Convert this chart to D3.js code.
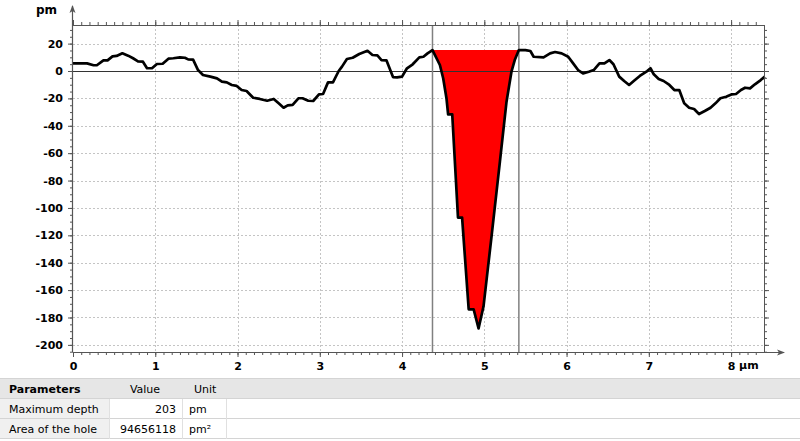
<!DOCTYPE html>
<html>
<head>
<meta charset="utf-8">
<script src="https://cdn.jsdelivr.net/npm/d3@7"></script>
<style>
  body { margin: 0; background: #fff; }
  svg { display: block; }
</style>
</head>
<body>
<svg id="chart" width="800" height="441"></svg>
<script>
// profile, µm along x and pm height
const profileX = [0, 0.17, 0.25, 0.29, 0.37, 0.42, 0.48, 0.53, 0.60, 0.67, 0.73, 0.79, 0.85, 0.90, 0.96, 1.02, 1.09, 1.16, 1.22, 1.30, 1.36, 1.40, 1.46,
  1.52, 1.58, 1.67, 1.75, 1.81, 1.87, 1.93, 1.99, 2.05, 2.11, 2.19, 2.27, 2.36, 2.44, 2.50, 2.56, 2.61, 2.67, 2.74, 2.79, 2.86, 2.92, 2.99, 3.04,
  3.10, 3.16, 3.23, 3.27, 3.33, 3.40, 3.48, 3.58, 3.64, 3.70, 3.75, 3.81, 3.89, 3.94, 4.00, 4.06, 4.13, 4.21, 4.26, 4.31, 4.37,
  4.46, 4.50, 4.54, 4.56, 4.61, 4.68, 4.73, 4.81, 4.87, 4.93, 4.99, 5.09, 5.19, 5.27, 5.33, 5.37, 5.42, 5.50,
  5.56, 5.60, 5.72, 5.80, 5.86, 5.94, 6.02, 6.08, 6.14, 6.20, 6.27, 6.33, 6.40, 6.46, 6.52, 6.57, 6.64, 6.70, 6.76, 6.82, 6.89, 6.98, 7.02,
  7.06, 7.12, 7.18, 7.25, 7.31, 7.37, 7.43, 7.49, 7.55, 7.61, 7.68, 7.75, 7.81, 7.87, 7.94, 8.01, 8.06, 8.12, 8.17, 8.23, 8.29, 8.36, 8.41];
const profileY = [5.6, 5.6, 4.2, 4.2, 7.8, 7.8, 10.7, 11, 12.9, 11.2, 9.3, 7.1, 6.8, 2, 2, 5.1, 5.3, 9, 9.3, 10, 9.7, 8.5, 8.3,
  0.7, -2.9, -4.1, -5.4, -7.8, -8.3, -10.2, -10.9, -13.9, -14.6, -19.5, -20.4, -21.7, -20.4, -23.6, -26.8, -25.1, -24.8, -19.9, -19.9, -21.7, -21.9, -17, -16.8,
  -8.3, -8.3, 0, 3.2, 8.8, 9.7, 12.4, 14.8, 11.7, 11.4, 8, 7.8, -4.4, -4.6, -4.1, 2, 4.9, 10, 10.4, 12.9, 15.3,
  4.4, -5.3, -19.9, -31.6, -31.6, -107, -107, -174, -174, -188, -172, -119.7, -66, -22.4, -0.5, 8, 15.3, 15.3,
  14.6, 10.4, 10, 12.9, 13.9, 12.9, 10.4, 5.6, 0.7, -1.7, -0.5, 0.7, 5.6, 5.6, 8, 4.9, -4.1, -7.3, -10.2, -7.1, -3.6, 0, 2,
  -2.4, -5.8, -7.3, -10.2, -13.9, -13.9, -23.6, -26.8, -27.7, -31.4, -29.2, -26.8, -23.6, -19.9, -18.8, -17, -16.8, -13.9, -12.2, -12.7, -9.7, -6.6, -4.1];

const holeStart = 4.37, holeEnd = 5.42, holeLevel = 15.3;

const xTicks = [0, 1, 2, 3, 4, 5, 6, 7, 8];
const yTicks = [20, 0, -20, -40, -60, -80, -100, -120, -140, -160, -180, -200];

const tableHeader = ["Parameters", "Value", "Unit"];
const paramNames = ["Maximum depth", "Area of the hole"];
const paramValues = ["203", "94656118"];
const paramUnits = ["pm", "pm²"];

const svg = d3.select("#chart");
const L = 73, R = 764, T = 25, B = 352;
const x = d3.scaleLinear().domain([0, 8.4]).range([L, R]);
const y = d3.scaleLinear().domain([-205.2, 33.6]).range([B, T]);
const axisColor = "#555";
const font = "'DejaVu Sans', Verdana, sans-serif";

const pts = profileX.map((d, i) => [d, profileY[i]]);

// grid
const grid = svg.append("g").attr("stroke", "#c4c4c4").attr("stroke-dasharray", "2,2").attr("stroke-width", 1);
xTicks.filter(d => d > 0).forEach(d => {
  grid.append("line").attr("x1", Math.round(x(d)) + 0.5).attr("x2", Math.round(x(d)) + 0.5).attr("y1", T).attr("y2", B);
});
yTicks.filter(d => d !== 0).forEach(d => {
  grid.append("line").attr("x1", L).attr("x2", R).attr("y1", Math.round(y(d)) + 0.5).attr("y2", Math.round(y(d)) + 0.5);
});

// hole fill
const holePts = pts.filter(p => p[0] >= holeStart && p[0] <= holeEnd);
svg.append("path")
  .datum(holePts)
  .attr("fill", "#ff0000")
  .attr("d", d3.area().x(p => x(p[0])).y0(y(holeLevel)).y1(p => y(p[1])));

// zero line
svg.append("line").attr("x1", L).attr("x2", R).attr("y1", Math.round(y(0)) + 0.5).attr("y2", Math.round(y(0)) + 0.5)
  .attr("stroke", "#333").attr("stroke-width", 1);

// hole bounds
[holeStart, holeEnd].forEach(d => {
  svg.append("line").attr("x1", x(d)).attr("x2", x(d)).attr("y1", T).attr("y2", B)
    .attr("stroke", "#808080").attr("stroke-width", 1.5);
});

// profile
svg.append("path")
  .datum(pts)
  .attr("fill", "none")
  .attr("stroke", "#000")
  .attr("stroke-width", 2.7)
  .attr("stroke-linejoin", "round")
  .attr("d", d3.line().x(p => x(p[0])).y(p => y(p[1])));

// axes
const minorX = d3.range(0, 84).map(i => i / 10);
const minorY = d3.range(-205, 34, 5);

function styleAxis(g) {
  g.select(".domain").remove();
  g.selectAll("line").attr("stroke", axisColor);
}

svg.append("g").attr("transform", `translate(0,${B})`)
  .call(d3.axisBottom(x).tickValues(minorX).tickSize(3).tickFormat("")).call(styleAxis);
svg.append("g").attr("transform", `translate(0,${B})`)
  .call(d3.axisBottom(x).tickValues(xTicks).tickSize(5).tickFormat(d => d))
  .call(styleAxis)
  .call(g => g.selectAll("text").attr("font-family", font).attr("font-weight", "bold").attr("font-size", 11).attr("fill", "#000").attr("dy", "0.95em"));
svg.append("g").attr("transform", `translate(0,${T})`)
  .call(d3.axisTop(x).tickValues(minorX).tickSize(3).tickFormat("")).call(styleAxis);
svg.append("g").attr("transform", `translate(0,${T})`)
  .call(d3.axisTop(x).tickValues(xTicks).tickSize(5).tickFormat("")).call(styleAxis);

svg.append("g").attr("transform", `translate(${L},0)`)
  .call(d3.axisLeft(y).tickValues(minorY).tickSize(3).tickFormat("")).call(styleAxis);
svg.append("g").attr("transform", `translate(${L},0)`)
  .call(d3.axisLeft(y).tickValues(yTicks).tickSize(5).tickPadding(5).tickFormat(d => d))
  .call(styleAxis)
  .call(g => g.selectAll("text").attr("font-family", font).attr("font-weight", "bold").attr("font-size", 11).attr("fill", "#000"));
svg.append("g").attr("transform", `translate(${R},0)`)
  .call(d3.axisRight(y).tickValues(minorY).tickSize(3).tickFormat("")).call(styleAxis);
svg.append("g").attr("transform", `translate(${R},0)`)
  .call(d3.axisRight(y).tickValues(yTicks).tickSize(5).tickFormat("")).call(styleAxis);

// frame and arrows
svg.append("line").attr("x1", L).attr("x2", R).attr("y1", T + 0.5).attr("y2", T + 0.5).attr("stroke", axisColor);
svg.append("line").attr("x1", R + 0.5).attr("x2", R + 0.5).attr("y1", T).attr("y2", B).attr("stroke", axisColor);
svg.append("line").attr("x1", L).attr("x2", 784).attr("y1", B + 0.5).attr("y2", B + 0.5).attr("stroke", axisColor).attr("stroke-width", 1.2);
svg.append("line").attr("x1", L - 0.5).attr("x2", L - 0.5).attr("y1", B).attr("y2", 6).attr("stroke", axisColor).attr("stroke-width", 1.2);
svg.append("path").attr("d", `M${L - 0.5},5 l-3,8 l3,-2 l3,2 z`).attr("fill", axisColor);
svg.append("path").attr("d", `M785,${B + 0.5} l-8,-3 l2,3 l-2,3 z`).attr("fill", axisColor);

svg.append("text").attr("x", 57).attr("y", 14).attr("text-anchor", "end")
  .attr("font-family", font).attr("font-weight", "bold").attr("font-size", 12).text("pm");
svg.append("text").attr("x", x(8) + 8).attr("y", B + 16.5)
  .attr("font-family", font).attr("font-weight", "bold").attr("font-size", 11).text("µm");

// parameter table
const tTop = 379, rowH = 20;
const colX = [0, 110, 183, 227, 800];
const table = svg.append("g").attr("font-family", font).attr("font-size", 11);
table.append("rect").attr("x", 0).attr("y", tTop).attr("width", 800).attr("height", rowH).attr("fill", "#e6e6e6");
paramNames.forEach((n, i) => {
  const ry = tTop + rowH * (i + 1);
  table.append("rect").attr("x", 0).attr("y", ry).attr("width", colX[1]).attr("height", rowH).attr("fill", "#f0f0f0");
  table.append("text").attr("x", 9).attr("y", ry + 14).text(n);
  table.append("text").attr("x", 176).attr("y", ry + 14).attr("text-anchor", "end").text(paramValues[i]);
  table.append("text").attr("x", 189).attr("y", ry + 14).text(paramUnits[i]);
});
table.append("text").attr("x", 9).attr("y", tTop + 14).attr("font-weight", "bold").text(tableHeader[0]);
table.append("text").attr("x", 145).attr("y", tTop + 14).attr("text-anchor", "middle").text(tableHeader[1]);
table.append("text").attr("x", 194).attr("y", tTop + 14).attr("text-anchor", "start").text(tableHeader[2]);
d3.range(4).forEach(i => {
  table.append("line").attr("x1", 0).attr("x2", 800).attr("y1", tTop + rowH * i - 0.5).attr("y2", tTop + rowH * i - 0.5)
    .attr("stroke", "#d4d4d4");
});
[colX[1], colX[2], colX[3]].forEach(cx => {
  table.append("line").attr("x1", cx - 0.5).attr("x2", cx - 0.5).attr("y1", tTop + rowH).attr("y2", tTop + rowH * 3)
    .attr("stroke", "#e0e0e0");
});
</script>
</body>
</html>
